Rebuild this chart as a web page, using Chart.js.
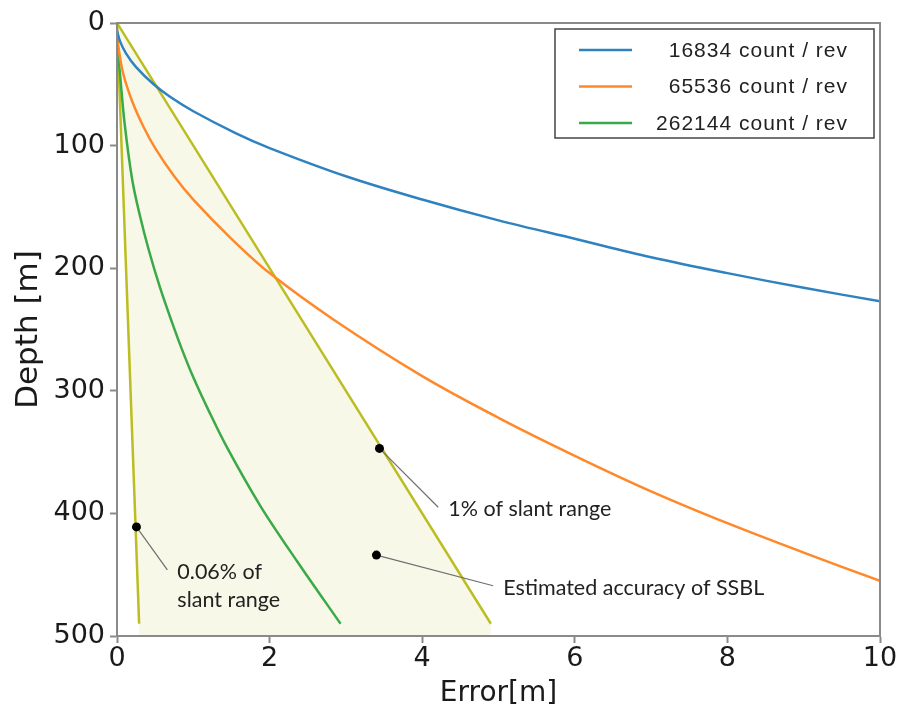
<!DOCTYPE html>
<html>
<head>
<meta charset="utf-8">
<script src="https://cdn.jsdelivr.net/npm/chart.js@4.4.1/dist/chart.umd.min.js"></script>
<style>
  html, body { margin:0; padding:0; background:#fff; }
  #wrap { width:904px; height:718px; }
</style>
</head>
<body>
<div id="wrap"><canvas id="errChart" width="904" height="718"></canvas></div>
<script>

// ======================================
// DATA
// ======================================
const xTicks = [0, 2, 4, 6, 8, 10];
const yTicks = [0, 100, 200, 300, 400, 500];

const seriesNames = ['16834 count / rev', '65536 count / rev', '262144 count / rev'];

// 16834 count / rev
const blueErr   = [0, 0.04, 0.12, 0.25, 0.48, 0.69, 1.0, 1.56, 2.0, 3.0, 4.0, 5.0, 6.0, 7.0, 8.0, 9.0, 10];
const blueDepth = [6, 15, 25, 36, 50, 60, 72, 90, 102, 125, 144, 161, 176, 191, 204, 216, 227];

// 65536 count / rev
const orangeErr   = [0, 0.02, 0.08, 0.2, 0.35, 0.5, 0.75, 1.0, 1.5, 2.0, 2.84, 4.0, 5.0, 6.0, 7.0, 8.0, 9.0, 10];
const orangeDepth = [8, 20, 41, 64, 85, 102, 125, 144, 176, 204, 242, 288, 322, 353, 382, 408, 432, 455];

// 262144 count / rev
const greenErr   = [0, 0.01, 0.04, 0.1, 0.2, 0.3, 0.42, 0.56, 0.72, 0.85, 1.0, 1.2, 1.44, 1.88, 2.36, 2.93];
const greenDepth = [8, 22, 42, 82, 128, 157, 186, 215, 244, 266, 289, 316, 346, 394, 439, 490];

// slant range lines
const slant1Err   = [0, 4.9];
const slant1Depth = [0, 490];
const slant006Err   = [0, 0.29];
const slant006Depth = [0, 490];

// shaded region (estimated accuracy of SSBL)
const zoneErr   = [0, 4.9, 4.9, 0.29, 0.29, 0];
const zoneDepth = [0, 490, 500, 500, 490, 0];

// annotations: dot, end of leader line, text
const notes = [
  { dot:[3.44, 347], end:[4.21, 395], lines:['1% of slant range'] },
  { dot:[3.40, 434], end:[4.93, 459], lines:['Estimated accuracy of SSBL'] },
  { dot:[0.255, 411], end:[0.66, 446], lines:['0.06% of', 'slant range'] }
];

const COLORS = ['#2f82c0', '#ff892a', '#3aa948'];
const OLIVE = '#bcbd22';

function pts(xs, ys){
  return xs.map((x, i) => ({ x, y: ys[i] }));
}

// ======================================
// PLUGIN: frame, legend, annotations
// ======================================
const extras = {
  id:'extras',

  afterDatasetsDraw(chart){
    const { ctx, scales:{ x, y } } = chart;

    // annotations
    ctx.save();
    notes.forEach(n => {
      const dx = x.getPixelForValue(n.dot[0]);
      const dy = y.getPixelForValue(n.dot[1]);
      const ex = x.getPixelForValue(n.end[0]);
      const ey = y.getPixelForValue(n.end[1]);

      ctx.strokeStyle = '#6e6e6e';
      ctx.lineWidth = 1.2;
      ctx.beginPath();
      ctx.moveTo(dx, dy);
      ctx.lineTo(ex, ey);
      ctx.stroke();

      ctx.fillStyle = '#000';
      ctx.beginPath();
      ctx.arc(dx, dy, 4.5, 0, Math.PI * 2);
      ctx.fill();

      ctx.fillStyle = '#222';
      ctx.font = '21.5px Lato';
      ctx.textAlign = 'left';
      ctx.textBaseline = 'middle';
      n.lines.forEach((t, i) => {
        ctx.fillText(t, ex + 10, ey + 2 + i * 28);
      });
    });
    ctx.restore();
  },

  afterDraw(chart){
    const { ctx, chartArea:a } = chart;

    // top / right spines
    ctx.save();
    ctx.strokeStyle = '#8a8a8a';
    ctx.lineWidth = 2;
    ctx.strokeRect(a.left, a.top, a.right - a.left, a.bottom - a.top);

    // legend
    const bx = a.right - 325, by = a.top + 6, bw = 319, bh = 109;
    ctx.fillStyle = '#fff';
    ctx.fillRect(bx, by, bw, bh);
    ctx.strokeStyle = '#444';
    ctx.lineWidth = 1.5;
    ctx.strokeRect(bx, by, bw, bh);

    ctx.font = '21px "Liberation Sans"';
    ctx.letterSpacing = '1px';
    ctx.textAlign = 'right';
    ctx.textBaseline = 'middle';
    seriesNames.forEach((name, i) => {
      const ly = by + 21 + i * 36.5;
      ctx.strokeStyle = COLORS[i];
      ctx.lineWidth = 2.5;
      ctx.beginPath();
      ctx.moveTo(bx + 24, ly);
      ctx.lineTo(bx + 77, ly);
      ctx.stroke();
      ctx.fillStyle = '#222';
      ctx.fillText(name, bx + 293, ly + 1);
    });
    ctx.restore();
  }
};

// ======================================
// CHART
// ======================================
const curve = (data, color) => ({
  data,
  borderColor:color,
  borderWidth:2.5,
  pointRadius:0,
  showLine:true,
  fill:false,
  tension:0.35,
  order:1
});

const tickFont = { family:"'DejaVu Sans'", size:27 };

new Chart(document.getElementById('errChart'), {

  type:'scatter',

  data:{
    datasets:[
      curve(pts(blueErr, blueDepth), COLORS[0]),
      curve(pts(orangeErr, orangeDepth), COLORS[1]),
      curve(pts(greenErr, greenDepth), COLORS[2]),
      curve(pts(slant1Err, slant1Depth), OLIVE),
      curve(pts(slant006Err, slant006Depth), OLIVE),
      {
        data:pts(zoneErr, zoneDepth),
        showLine:true,
        borderWidth:0,
        borderColor:'rgba(0,0,0,0)',
        backgroundColor:'rgb(248,248,232)',
        pointRadius:0,
        fill:'shape',
        tension:0,
        order:10
      }
    ]
  },

  plugins:[extras],

  options:{
    responsive:false,
    animation:false,
    events:[],

    layout:{
      padding:{ top:23, right:24, left:0, bottom:0 }
    },

    plugins:{
      legend:{ display:false },
      tooltip:{ enabled:false }
    },

    scales:{

      x:{
        type:'linear',
        min:0,
        max:10,
        afterBuildTicks:(s) => { s.ticks = xTicks.map(v => ({ value:v })); },
        afterFit:(s) => { s.height = 82; },
        ticks:{
          color:'#1a1a1a',
          padding:0,
          font:tickFont
        },
        grid:{
          drawOnChartArea:false,
          tickLength:7,
          tickWidth:2,
          tickColor:'#8a8a8a'
        },
        border:{ color:'#8a8a8a', width:2 },
        title:{
          display:true,
          text:'Error[m]',
          color:'#1a1a1a',
          font:{ family:"'DejaVu Sans'", size:28 },
          padding:{ top:0, bottom:7 }
        }
      },

      y:{
        type:'linear',
        min:0,
        max:500,
        reverse:true,
        afterBuildTicks:(s) => { s.ticks = yTicks.map(v => ({ value:v })); },
        afterFit:(s) => { s.width = 117; },
        ticks:{
          color:'#1a1a1a',
          padding:5,
          font:tickFont
        },
        grid:{
          drawOnChartArea:false,
          tickLength:7,
          tickWidth:2,
          tickColor:'#8a8a8a'
        },
        border:{ color:'#8a8a8a', width:2 },
        title:{
          display:true,
          text:'Depth [m]',
          color:'#1a1a1a',
          font:{ family:"'DejaVu Sans'", size:31 },
          padding:{ top:10, bottom:0 }
        }
      }
    }
  }
});

</script>
</body>
</html>
